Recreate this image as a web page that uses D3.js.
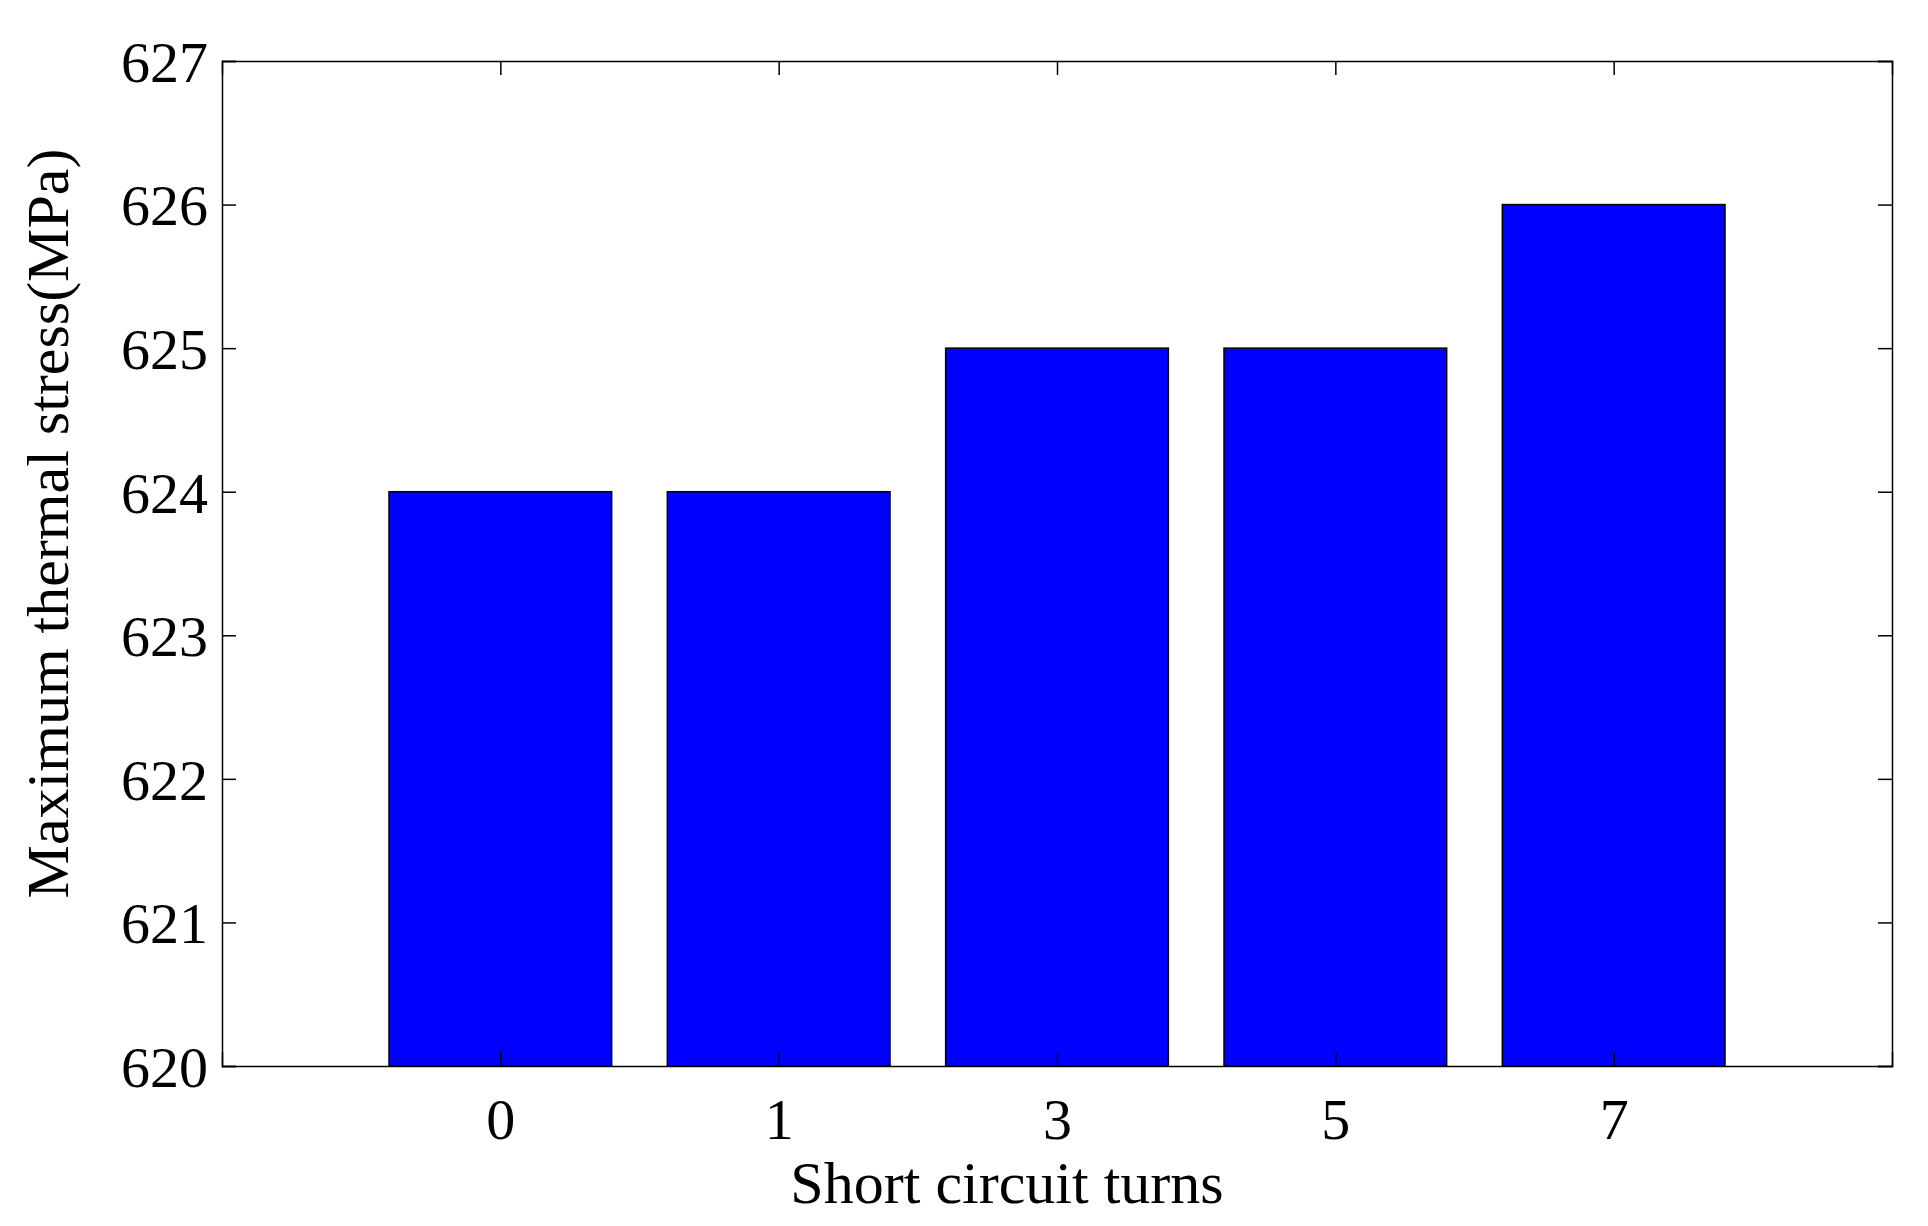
<!DOCTYPE html>
<html>
<head>
<script src="https://cdn.jsdelivr.net/npm/d3@7"></script>
<style>
  body { margin: 0; background: #fff; }
  text { font-family: "Liberation Serif", "DejaVu Serif", serif; fill: #000; }
</style>
</head>
<body>
<svg id="chart" width="1928" height="1226"></svg>
<script>
    var categories = ["0", "1", "3", "5", "7"];
    var values = [624, 624, 625, 625, 626];
    var yTicks = [620, 621, 622, 623, 624, 625, 626, 627];

    var margin = {left: 222, top: 61, right: 36, bottom: 160};
    var width = 1928 - margin.left - margin.right,
        height = 1226 - margin.top - margin.bottom;

    var svg = d3.select("#chart");
    var g = svg.append("g").attr("transform", "translate(" + margin.left + "," + margin.top + ")");

    // bar positions 1..n inside xlim [0, n+1]
    var x = d3.scaleLinear().domain([0, categories.length + 1]).range([0, width]);
    var y = d3.scaleLinear().domain([620, 627]).range([height, 0]);
    var barW = x(0.8) - x(0);

    g.selectAll("rect.bar")
        .data(values)
        .enter()
        .append("rect")
        .attr("class", "bar")
        .attr("x", function(d, i) { return x(i + 1) - barW / 2; })
        .attr("y", function(d) { return y(d); })
        .attr("width", barW)
        .attr("height", function(d) { return height - y(d); })
        .attr("fill", "#0000ff")
        .attr("stroke", "#000")
        .attr("stroke-width", 1.5);

    var pos = categories.map(function(c, i) { return i + 1; });
    var tick = 14;

    var xb = g.append("g").attr("transform", "translate(0," + height + ")")
        .call(d3.axisBottom(x).tickValues(pos).tickSize(-tick).tickPadding(32)
            .tickFormat(function(d) { return categories[d - 1]; }));
    var xt = g.append("g")
        .call(d3.axisTop(x).tickValues(pos).tickSize(-tick).tickFormat(""));
    var yl = g.append("g")
        .call(d3.axisLeft(y).tickValues(yTicks).tickSize(-tick).tickPadding(14).tickFormat(d3.format("d")));
    var yr = g.append("g").attr("transform", "translate(" + width + ",0)")
        .call(d3.axisRight(y).tickValues(yTicks).tickSize(-tick).tickFormat(""));

    [xb, xt, yl, yr].forEach(function(a) {
        a.select(".domain").attr("stroke", "#000").attr("stroke-width", 1.5);
        a.selectAll(".tick line").attr("stroke", "#000").attr("stroke-width", 1.5);
        a.selectAll("text").style("font-size", "58px")
            .style("font-family", "'Liberation Serif', 'DejaVu Serif', serif");
    });
    xb.selectAll("text").attr("dy", "0.71em");
    yl.selectAll("text").attr("dy", "0.35em");

    svg.append("text")
        .attr("x", margin.left + width / 2 - 50)
        .attr("y", 1203)
        .attr("text-anchor", "middle")
        .style("font-size", "60px")
        .text("Short circuit turns");

    svg.append("text")
        .attr("transform", "translate(68," + (margin.top + height / 2 - 40) + ") rotate(-90)")
        .attr("text-anchor", "middle")
        .style("font-size", "60px")
        .text("Maximum thermal stress(MPa)");
</script>
</body>
</html>
